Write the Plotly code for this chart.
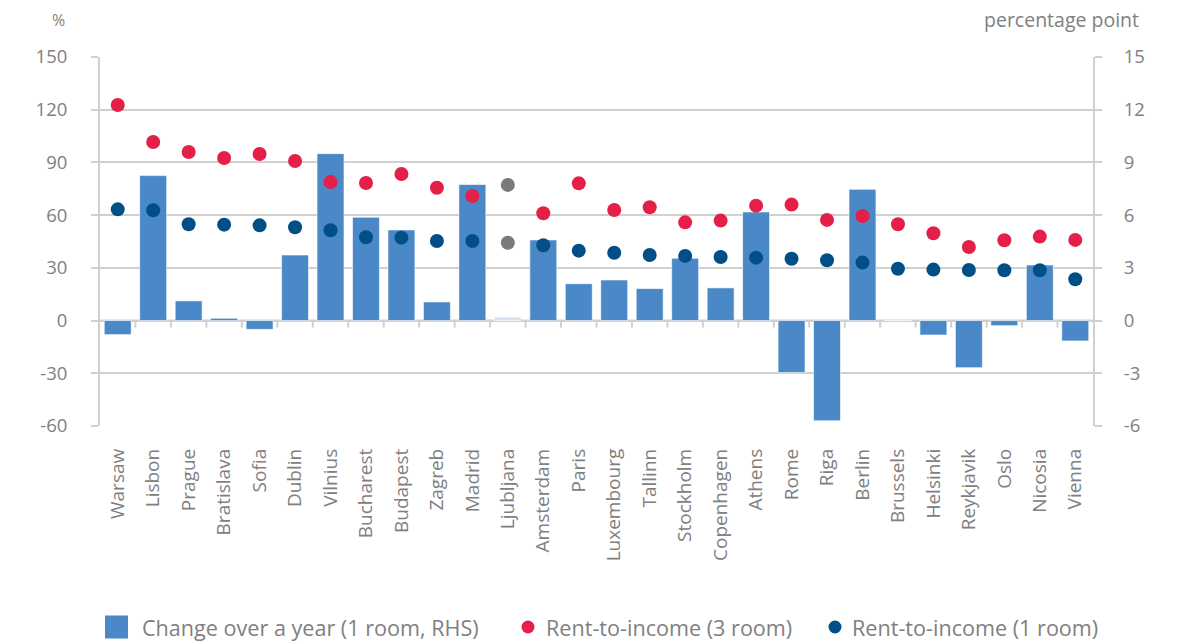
import plotly.graph_objects as go

# City-level rents: yearly change (1 room, RHS) and rent-to-income ratios
cities = ["Warsaw", "Lisbon", "Prague", "Bratislava", "Sofia", "Dublin", "Vilnius",
          "Bucharest", "Budapest", "Zagreb", "Madrid", "Ljubljana", "Amsterdam", "Paris",
          "Luxembourg", "Tallinn", "Stockholm", "Copenhagen", "Athens", "Rome", "Riga",
          "Berlin", "Brussels", "Helsinki", "Reykjavik", "Oslo", "Nicosia", "Vienna"]

change_1room_pp = [-0.8, 8.25, 1.12, 0.13, -0.5, 3.73, 9.5,
                   5.88, 5.16, 1.06, 7.74, 0.2, 4.59, 2.1,
                   2.31, 1.82, 3.55, 1.86, 6.18, -2.96, -5.7,
                   7.47, 0.0, -0.82, -2.68, -0.29, 3.16, -1.16]

rent_income_3room = [122.7, 101.6, 95.9, 92.5, 94.8, 90.8, 78.9,
                     78.3, 83.4, 75.6, 70.9, 77.2, 61.1, 78.1,
                     62.9, 64.5, 55.9, 56.9, 65.4, 66.0, 57.3,
                     59.5, 54.8, 49.7, 41.9, 45.7, 47.8, 45.9]

rent_income_1room = [63.3, 62.8, 54.8, 54.6, 54.2, 53.1, 51.4,
                     47.4, 47.2, 45.3, 45.3, 44.3, 42.9, 39.8,
                     38.6, 37.3, 36.8, 36.2, 35.8, 35.2, 34.3,
                     33.0, 29.5, 29.0, 28.8, 28.6, 28.6, 23.5]

# Cities shown with muted colours (incomplete data)
muted = ["Ljubljana"]

left_ticks = [-60, -30, 0, 30, 60, 90, 120, 150]
right_ticks = [-6, -3, 0, 3, 6, 9, 12, 15]

series_names = ["Change over a year (1 room, RHS)",
                "Rent-to-income (3 room)",
                "Rent-to-income (1 room)"]

BAR = "#4a88c7"
BAR_MUTED = "#d5e1f1"
RED = "#e41f48"
NAVY = "#004f87"
GREY = "#7a7a7a"
AXIS = "#d0d0d0"
TEXT = "#808080"
FONT = "Open Sans"

W, H = 1184, 641
ML, MR, MT, MB = 100, 91, 57, 215
PW, PH = W - ML - MR, H - MT - MB


def px_x(px):
    """Pixel column -> paper x."""
    return (px - ML) / PW


def px_y(py):
    """Pixel row -> paper y."""
    return (H - MB - py) / PH


bar_colors = [BAR_MUTED if c in muted else BAR for c in cities]
red_colors = [GREY if c in muted else RED for c in cities]
navy_colors = [GREY if c in muted else NAVY for c in cities]

fig = go.Figure()

fig.add_trace(go.Bar(
    x=cities, y=change_1room_pp, name=series_names[0],
    marker=dict(color=bar_colors, line=dict(color="rgba(255,255,255,0.6)", width=1)),
    width=0.76, yaxis="y",
))
fig.add_trace(go.Scatter(
    x=cities, y=rent_income_3room, name=series_names[1], mode="markers",
    marker=dict(color=red_colors, size=14), yaxis="y2",
))
fig.add_trace(go.Scatter(
    x=cities, y=rent_income_1room, name=series_names[2], mode="markers",
    marker=dict(color=navy_colors, size=14), yaxis="y2",
))

# Boundary tick marks hanging below the zero line
shapes = [dict(type="line", xref="x", yref="y", x0=i - 0.5, x1=i - 0.5,
               ysizemode="pixel", yanchor=0, y0=0, y1=-7,
               line=dict(color=AXIS, width=2), layer="below")
          for i in range(1, len(cities))]
shapes.append(dict(type="line", xref="paper", yref="y", x0=0, x1=1, y0=0, y1=0,
                   line=dict(color=AXIS, width=2), layer="below"))

# Legend keys drawn below the plot
LEG_Y = 627
shapes.append(dict(type="rect", xref="paper", yref="paper",
                   x0=px_x(105), x1=px_x(128), y0=px_y(LEG_Y - 11.5), y1=px_y(LEG_Y + 11.5),
                   fillcolor=BAR, line=dict(width=0)))
for cx, col in [(528, RED), (835, NAVY)]:
    shapes.append(dict(type="circle", xref="paper", yref="paper",
                       x0=px_x(cx - 6.5), x1=px_x(cx + 6.5),
                       y0=px_y(LEG_Y - 6.5), y1=px_y(LEG_Y + 6.5),
                       fillcolor=col, line=dict(width=0)))

annotations = [
    dict(text="%", xref="paper", yref="paper", x=0, y=1, xanchor="right",
         yanchor="middle", xshift=-33, yshift=37, showarrow=False,
         font=dict(size=16, color=TEXT)),
    dict(text="percentage point", xref="paper", yref="paper", x=1, y=1,
         xanchor="right", yanchor="middle", xshift=48, yshift=38, showarrow=False,
         font=dict(size=19.5, color=TEXT)),
]
for tx, name in zip([140, 544, 850], series_names):
    annotations.append(dict(text=name, xref="paper", yref="paper", x=px_x(tx),
                            y=px_y(LEG_Y), xanchor="left", yanchor="middle",
                            showarrow=False, font=dict(size=21.6, color=TEXT)))

fig.update_layout(
    width=W, height=H,
    margin=dict(l=ML, r=MR, t=MT, b=MB, autoexpand=False),
    paper_bgcolor="white", plot_bgcolor="white",
    font=dict(family=FONT, color=TEXT, size=16),
    showlegend=False,
    xaxis=dict(type="category", range=[-0.5, len(cities) - 0.5], tickangle=-90,
               showgrid=False, showline=False, ticks="", ticklabelstandoff=18,
               tickfont=dict(size=19, color=TEXT), zeroline=False, automargin=False),
    yaxis=dict(side="right", range=[-6, 15], tickvals=right_ticks,
               ticktext=[str(v) for v in right_ticks],
               showgrid=True, gridcolor=AXIS, gridwidth=2,
               showline=True, linecolor=AXIS, linewidth=2,
               ticks="outside", ticklen=7, tickcolor=AXIS, tickwidth=2,
               ticklabelstandoff=18, zeroline=False, automargin=False,
               tickfont=dict(size=18.5, color=TEXT)),
    yaxis2=dict(side="left", overlaying="y", range=[-60, 150], tickvals=left_ticks,
                ticktext=[str(v) for v in left_ticks],
                showgrid=False, showline=True, linecolor=AXIS, linewidth=2,
                ticks="outside", ticklen=7, tickcolor=AXIS, tickwidth=2,
                ticklabelstandoff=20, zeroline=False, automargin=False,
                tickfont=dict(size=18.5, color=TEXT)),
    shapes=shapes,
    annotations=annotations,
)

fig.write_html("out.html")
